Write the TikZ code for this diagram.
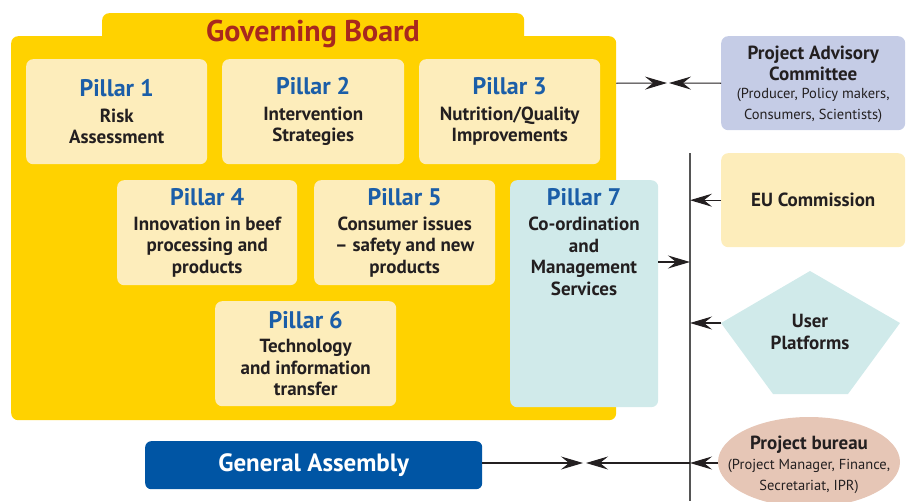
\documentclass[tikz,border=0pt]{standalone}
\usepackage{fontspec}
\setmainfont{PT Sans}
\usetikzlibrary{arrows.meta,shapes.geometric}
\definecolor{boardyellow}{HTML}{FFD200}
\definecolor{pillarfill}{HTML}{FDEDBB}
\definecolor{mgmtfill}{HTML}{D0EAEA}
\definecolor{pillarblue}{HTML}{1B5EA8}
\definecolor{boardred}{HTML}{A8281E}
\definecolor{advfill}{HTML}{C5CCE6}
\definecolor{gablue}{HTML}{0055A4}
\definecolor{bureaufill}{HTML}{E6C6B6}
\definecolor{inktext}{HTML}{231F20}
\definecolor{busgray}{HTML}{555555}
\newcommand{\ptitle}[1]{{\fontsize{24}{26}\selectfont\color{pillarblue}#1}}
\newcommand{\subsize}{\mdseries\fontsize{14.5}{16}\selectfont}
\tikzset{
  x=1pt, y=-1pt,
  bodyfont/.style={font=\bfseries\fontsize{19}{21.5}\selectfont},
  pbox/.style={fill=pillarfill, rounded corners=7pt, anchor=north west,
    inner sep=0pt, align=center, text=inktext, bodyfont},
  sidebox/.style={rounded corners=7pt, anchor=north west, inner sep=0pt,
    align=center, text=inktext, bodyfont},
  conn/.style={draw=inktext, line width=1.1pt,
    -{Stealth[length=22pt,width=13pt,inset=8pt]}},
  bus/.style={draw=busgray, line width=1.4pt},
}
\begin{document}
\begin{tikzpicture}
\useasboundingbox (0,0) rectangle (908,501);
% Governing board: tab and main panel
\node[fill=boardyellow, rounded corners=7pt, anchor=north west, inner sep=0pt,
  minimum width=422pt, minimum height=40pt] (tab) at (102,13) {};
\node[fill=boardyellow, rounded corners=7pt, anchor=north west, inner sep=0pt,
  minimum width=605pt, minimum height=384pt] (board) at (11,36) {};
\node[text=boardred, font=\bfseries\fontsize{30}{32}\selectfont] (gb) at (313,34) {Governing Board};
% Pillars
\node[pbox, minimum width=181pt, minimum height=105pt] (p1) at (26,59)
  {\ptitle{Pillar 1}\\[4pt]Risk\\Assessment};
\node[pbox, minimum width=182pt, minimum height=105pt] (p2) at (222,59)
  {\ptitle{Pillar 2}\\[4pt]Intervention\\Strategies};
\node[pbox, minimum width=181pt, minimum height=105pt] (p3) at (419,59)
  {\ptitle{Pillar 3}\\[4pt]Nutrition/Quality\\Improvements};
\node[pbox, minimum width=180pt, minimum height=105pt] (p4) at (117,180)
  {\ptitle{Pillar 4}\\[3pt]Innovation in beef\\processing and\\products};
\node[pbox, minimum width=181pt, minimum height=105pt] (p5) at (314,180)
  {\ptitle{Pillar 5}\\[3pt]Consumer issues\\-- safety and new\\products};
\node[pbox, minimum width=181pt, minimum height=105pt] (p6) at (215,301)
  {\ptitle{Pillar 6}\\[3pt]Technology\\and information\\transfer};
\node[pbox, fill=mgmtfill, minimum width=148pt, minimum height=227pt] (p7) at (510,180) {};
\node[text=inktext, align=center, anchor=north, inner sep=0pt, bodyfont] (p7t) at (584,188)
  {\ptitle{Pillar 7}\\[4pt]Co-ordination\\and\\Management\\Services};
% Right-hand bodies
\node[sidebox, fill=advfill, minimum width=184pt, minimum height=94pt] (pac) at (721,36) {};
\node[text=inktext, align=center, inner sep=0pt, bodyfont] (pact) at ([yshift=-1pt]pac.center)
  {Project Advisory\\Committee\\[-4pt]\subsize (Producer, Policy makers,\\\subsize Consumers, Scientists)};
\node[sidebox, fill=pillarfill, minimum width=184pt, minimum height=94pt] (eu) at (721,153)
  {EU Commission};
\fill[mgmtfill] (810,271) coordinate (upT) -- (900,323) coordinate (upR)
  -- (848,394) -- (773,394) -- (721,323) coordinate (upL) -- cycle;
\node[text=inktext, align=center, bodyfont] (up) at (810,332)
  {User\\Platforms};
\node[ellipse, fill=bureaufill, minimum width=182pt, minimum height=90pt, inner sep=0pt] (pb) at (809,462) {};
\node[text=inktext, align=center, inner sep=0pt, bodyfont] (pbt) at (809,465)
  {Project bureau\\[-2pt]\subsize (Project Manager, Finance,\\\subsize Secretariat, IPR)};
\node[fill=gablue, rounded corners=6pt, anchor=north west, inner sep=0pt,
  minimum width=337pt, minimum height=48pt, text=white,
  font=\bfseries\fontsize{25}{27}\selectfont] (ga) at (145,441) {General Assembly};
% Connectors
\coordinate (vtop) at (690,153);
\coordinate (vbot) at (690,501);
\draw[bus] (vtop) -- (vbot);
\coordinate (m1) at (667,83);
\coordinate (m1b) at (669,83);
\draw[conn] (board.east |- pac.west) -- (m1);
\draw[conn] (pac.west) -- (m1b);
\draw[conn] (eu.west) -- (eu.west -| vtop);
\coordinate (m2) at (690,262);
\draw[conn] (p7.east |- m2) -- (m2);
\draw[conn] (upL) -- (upL -| vtop);
\coordinate (m3) at (583,463);
\coordinate (m3b) at (586,463);
\draw[conn] (ga.east |- m3) -- (m3);
\draw[conn] (m3 -| vtop) -- (m3b);
\draw[conn] (pb.west |- m3) -- (m3 -| vtop);
\end{tikzpicture}
\end{document}
